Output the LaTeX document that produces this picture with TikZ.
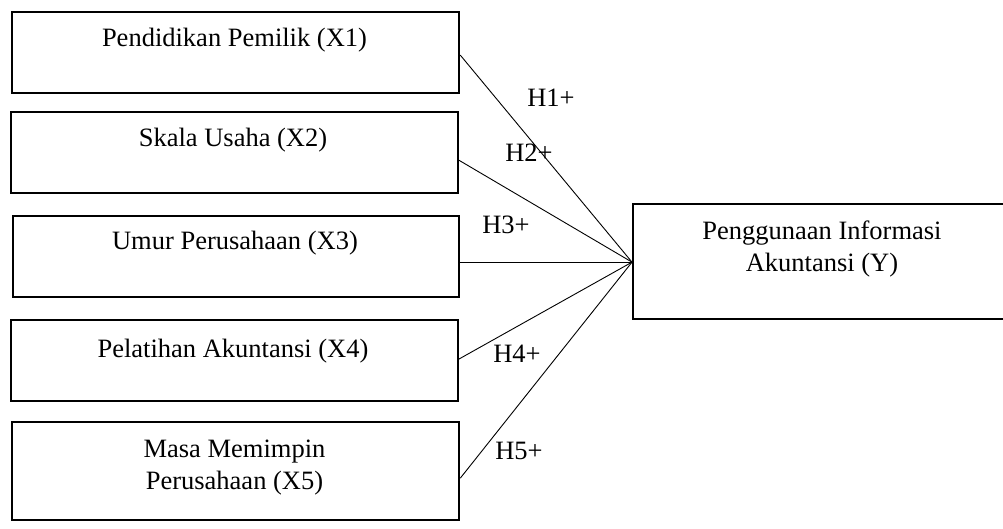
\documentclass[tikz,border=0pt]{standalone}
\usepackage{fontspec}
\setmainfont{Liberation Serif}
\newcommand\fsz{\fontsize{26.5}{32}\selectfont}
\begin{document}
\begin{tikzpicture}[x=1pt,y=-1pt,
  box/.style={draw, line width=2.3pt, inner sep=0pt, anchor=north west},
  lbl/.style={anchor=base, inner sep=0pt, font=\fsz},
  link/.style={line width=0.9pt}]
\useasboundingbox (0,0) rectangle (1003,529);
% boxes
\node[box, minimum width=447pt, minimum height=81pt] (x1) at (11,11) {};
\node[box, minimum width=447pt, minimum height=81pt] (x2) at (9.5,111) {};
\node[box, minimum width=446pt, minimum height=81pt] (x3) at (12,215) {};
\node[box, minimum width=447pt, minimum height=81pt] (x4) at (9.5,319) {};
\node[box, minimum width=447pt, minimum height=98pt] (x5) at (11,421) {};
\node[box, minimum width=400pt, minimum height=115pt] (y) at (632,203) {};
% texts
\node[lbl] (t1) at (234.5,47) {Pendidikan Pemilik (X1)};
\node[lbl] (t2) at (233,147) {Skala Usaha (X2)};
\node[lbl] (t3) at (235,250) {Umur Perusahaan (X3)};
\node[lbl] (t4) at (233,357) {Pelatihan Akuntansi (X4)};
\node[lbl] (t5a) at (234.5,457) {Masa Memimpin};
\node[lbl] (t5b) at (234.5,489) {Perusahaan (X5)};
\node[lbl] (tya) at (822,240) {Penggunaan Informasi};
\node[lbl] (tyb) at (822,272) {Akuntansi (Y)};
% connectors
\draw[link] ([yshift=-2.5pt]x1.east) -- ([yshift=-0.5pt]y.west);
\draw[link] ([yshift=-7.5pt]x2.east) -- ([yshift=-0.5pt]y.west);
\draw[link] ([yshift=-5.5pt]x3.east) -- ([yshift=-0.5pt]y.west);
\draw[link] ([yshift=1.5pt]x4.east) -- ([yshift=-0.5pt]y.west);
\draw[link] ([yshift=-7pt]x5.east) -- ([yshift=-0.5pt]y.west);
% hypothesis labels
\node[lbl] (h1) at (551,107) {H1+};
\node[lbl] (h2) at (529,162) {H2+};
\node[lbl] (h3) at (506,234) {H3+};
\node[lbl] (h4) at (517,362) {H4+};
\node[lbl] (h5) at (519,459) {H5+};
\end{tikzpicture}
\end{document}
